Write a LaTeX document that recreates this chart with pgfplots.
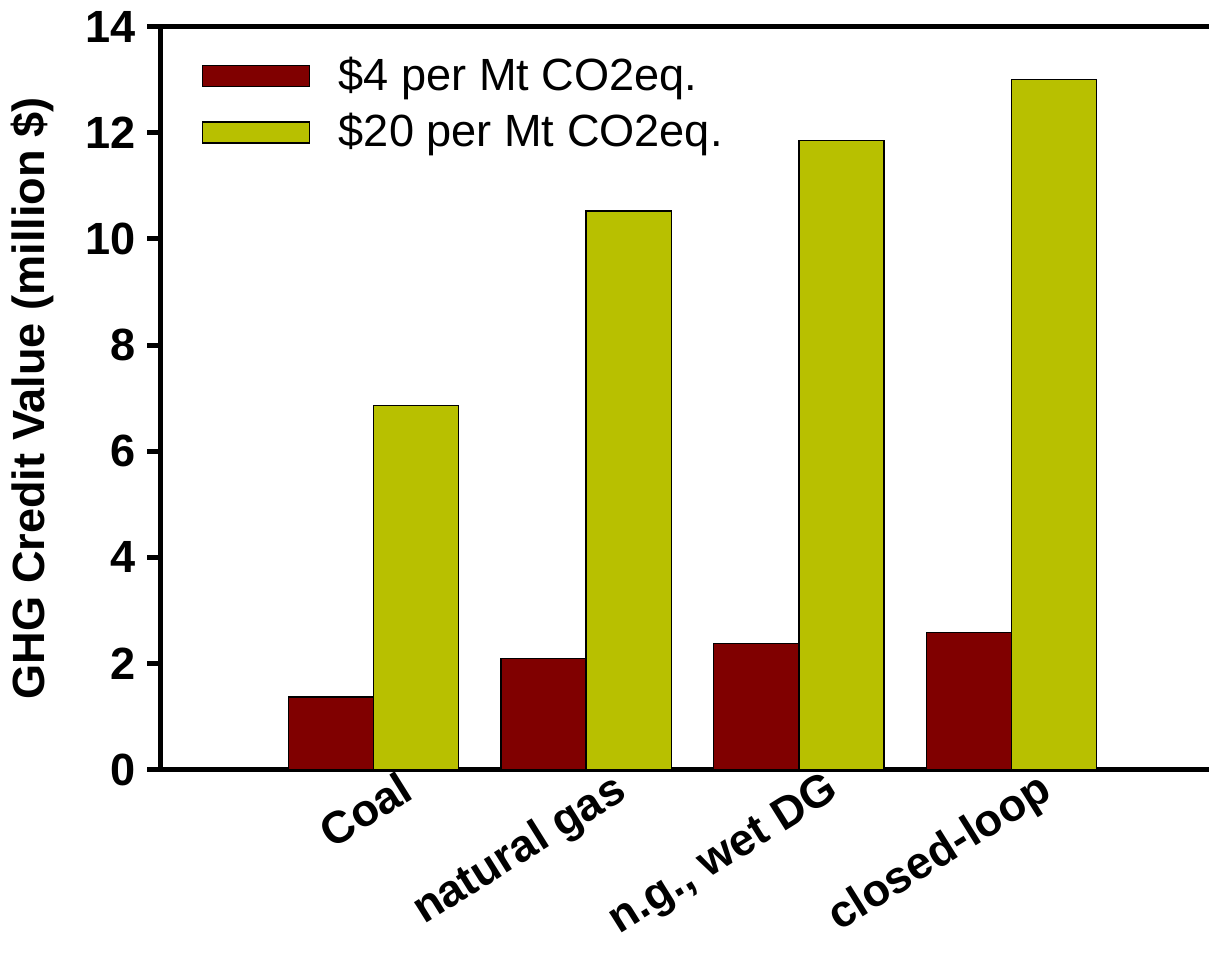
\documentclass[border=0pt]{standalone}
\usepackage{fontspec}
\setmainfont{Liberation Sans}
\usepackage{pgfplots}
\pgfplotsset{compat=1.18}
\definecolor{barred}{RGB}{128,0,0}
\definecolor{baryel}{RGB}{184,192,0}
\begin{document}
\begin{tikzpicture}
\begin{axis}[
  scale only axis, width=313.8pt, height=222.3pt,
  xmin=0, xmax=4.93, ymin=0, ymax=14,
  axis x line*=box, axis y line*=left,
  axis line style={line width=1.5pt},
  ybar=0pt, bar width=0.4,
  ytick={0,2,...,14},
  xtick={1,2,3,4},
  xticklabels={Coal,natural gas,{n.g., wet DG},closed-loop},
  xtick style={draw=none},
  ytick style={line width=1.5pt, black},
  tick align=outside, major tick length=4pt,
  /pgf/number format/assume math mode=true,
  yticklabel style={font=\bfseries\fontsize{13.5}{16}\selectfont},
  xticklabel style={font=\bfseries\fontsize{13.5}{16}\selectfont, rotate=32, anchor=north east, xshift=12pt, yshift=3pt},
  ylabel={GHG Credit Value (million \$)},
  ylabel style={font=\bfseries\fontsize{13.5}{16}\selectfont, at={(axis description cs:-0.122,0.5)}, anchor=center},
  legend style={draw=none, fill=none, at={(axis description cs:0.039,0.969)}, anchor=north west,
    font=\fontsize{13.5}{16}\selectfont, row sep=1.3pt, column sep=6.5pt, inner sep=0pt},
  legend cell align=left,
  legend image code/.code={\draw[#1] (0pt,-3.15pt) rectangle (32pt,3.15pt);},
]
\addplot[fill=barred, draw=black, line width=0.4pt] coordinates {(1,1.37) (2,2.10) (3,2.38) (4,2.59)};
\addplot[fill=baryel, draw=black, line width=0.4pt] coordinates {(1,6.86) (2,10.53) (3,11.85) (4,13.0)};
\legend{\$4 per Mt CO2eq.,\$20 per Mt CO2eq.}
\end{axis}
\end{tikzpicture}
\end{document}
